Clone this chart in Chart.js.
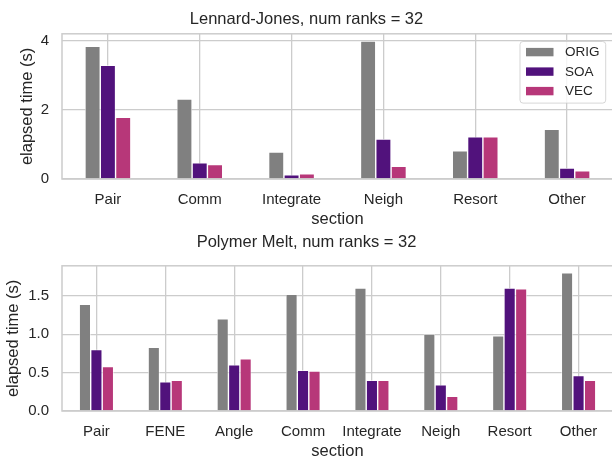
<!DOCTYPE html>
<html>
<head>
<meta charset="utf-8">
<script src="https://cdn.jsdelivr.net/npm/chart.js@4/dist/chart.umd.min.js"></script>
<style>
  html, body { margin: 0; padding: 0; background: #ffffff; overflow: hidden; }
  #wrap { position: relative; width: 612px; height: 457px; overflow: hidden; background: #fff; }
  .box { position: absolute; left: 0; width: 614px; }
  #b1 { top: 0; height: 229px; }
  #b2 { top: 229px; height: 232px; }
</style>
</head>
<body>
<div id="wrap">
  <div class="box" id="b1"><canvas id="c1"></canvas></div>
  <div class="box" id="b2"><canvas id="c2"></canvas></div>
</div>
<script>
// ---- data ----
const seriesNames = ["ORIG", "SOA", "VEC"];
const ljSections = ["Pair", "Comm", "Integrate", "Neigh", "Resort", "Other"];
const ljOrig = [3.85, 2.32, 0.78, 4.00, 0.82, 1.44];
const ljSoa  = [3.30, 0.47, 0.12, 1.16, 1.22, 0.32];
const ljVec  = [1.79, 0.42, 0.15, 0.37, 1.22, 0.24];
const ljTicks = [0, 2, 4];

const pmSections = ["Pair", "FENE", "Angle", "Comm", "Integrate", "Neigh", "Resort", "Other"];
const pmOrig = [1.39, 0.83, 1.20, 1.52, 1.60, 1.00, 0.98, 1.80];
const pmSoa  = [0.80, 0.38, 0.60, 0.53, 0.40, 0.34, 1.60, 0.46];
const pmVec  = [0.58, 0.40, 0.68, 0.52, 0.40, 0.19, 1.59, 0.40];
const pmTicks = [0, 0.5, 1.0, 1.5];

const colors = ["#808080", "#51127c", "#b73779"];
const FONT = "'Liberation Sans', Arial, sans-serif";
const TXT = "#262626";
const GRID = "#cccccc";

// frame around the plot area (seaborn whitegrid spines)
const framePlugin = {
  id: 'frame',
  beforeDatasetsDraw(chart) {
    const a = chart.chartArea, ctx = chart.ctx;
    ctx.save();
    ctx.strokeStyle = GRID;
    ctx.lineWidth = 1.5;
    ctx.strokeRect(a.left, a.top, a.right - a.left, a.bottom - a.top);
    ctx.restore();
  }
};

// matplotlib-like legend box in the upper right of the plot area
const mplLegend = {
  id: 'mplLegend',
  afterDatasetsDraw(chart, args, opts) {
    if (!opts || !opts.show) return;
    const a = chart.chartArea, ctx = chart.ctx;
    const w = 85.7, h = 61.6;
    const x0 = a.right - 7.3 - w, y0 = a.top + 7.7;
    ctx.save();
    ctx.beginPath();
    if (ctx.roundRect) ctx.roundRect(x0, y0, w, h, 3); else ctx.rect(x0, y0, w, h);
    ctx.fillStyle = 'rgba(255,255,255,0.8)';
    ctx.fill();
    ctx.strokeStyle = 'rgba(204,204,204,0.8)';
    ctx.lineWidth = 1;
    ctx.stroke();
    ctx.font = "13.5px " + FONT;
    ctx.textBaseline = 'middle';
    ctx.fillStyle = TXT;
    chart.data.datasets.forEach((ds, i) => {
      const cy = y0 + 10.6 + i * 19.5;
      ctx.fillStyle = ds.backgroundColor;
      ctx.fillRect(x0 + 6, cy - 4.2, 27.5, 8.4);
      ctx.fillStyle = TXT;
      ctx.fillText(ds.label, x0 + 45, cy + 0.5);
    });
    ctx.restore();
  }
};

function makeChart(id, cfg) {
  const datasets = cfg.series.map((vals, i) => ({
    label: seriesNames[i],
    data: vals,
    backgroundColor: colors[i],
    borderColor: '#ffffff',
    borderWidth: 0.7,
    categoryPercentage: 0.5,
    barPercentage: 1.0
  }));
  return new Chart(document.getElementById(id), {
    type: 'bar',
    data: { labels: cfg.labels, datasets },
    plugins: [framePlugin, mplLegend],
    options: {
      responsive: true,
      maintainAspectRatio: false,
      animation: false,
      devicePixelRatio: 1,
      layout: { padding: { left: 0, right: 1, top: 0, bottom: 0 } },
      plugins: {
        legend: { display: false },
        tooltip: { enabled: false },
        title: {
          display: true,
          text: cfg.title,
          color: TXT,
          font: { family: FONT, size: 16.5, weight: 'normal' },
          padding: cfg.titlePad
        },
        mplLegend: { show: cfg.legend }
      },
      scales: {
        x: {
          grid: { color: GRID, lineWidth: 1.3, offset: false, drawTicks: false },
          border: { display: false },
          ticks: { color: TXT, font: { family: FONT, size: 15 }, padding: 12, maxRotation: 0, autoSkip: false },
          title: { display: true, text: 'section', color: TXT, font: { family: FONT, size: 16.5 }, padding: { top: 0, bottom: 0 } },
          afterFit: s => { s.height = cfg.xh; }
        },
        y: {
          min: 0,
          max: cfg.ymax,
          grid: { color: GRID, lineWidth: 1.3, drawTicks: false },
          border: { display: false },
          afterBuildTicks: s => { s.ticks = cfg.ticks.map(v => ({ value: v })); },
          ticks: { color: TXT, font: { family: FONT, size: 15 }, padding: 13, callback: cfg.fmt },
          title: { display: true, text: 'elapsed time (s)', color: TXT, font: { family: FONT, size: 16.5 }, padding: { top: cfg.ytitlePad, bottom: 0 } },
          afterFit: s => { s.width = 62; }
        }
      }
    }
  });
}

makeChart('c1', {
  labels: ljSections,
  series: [ljOrig, ljSoa, ljVec],
  title: 'Lennard-Jones, num ranks = 32',
  titlePad: { top: 10, bottom: 4 },
  ymax: 4.21,
  ticks: ljTicks,
  fmt: v => String(v),
  xh: 50,
  ytitlePad: 17.5,
  legend: true
});

makeChart('c2', {
  labels: pmSections,
  series: [pmOrig, pmSoa, pmVec],
  title: 'Polymer Melt, num ranks = 32',
  titlePad: { top: 4, bottom: 13 },
  ymax: 1.89,
  ticks: pmTicks,
  fmt: v => Number(v).toFixed(1),
  xh: 50,
  ytitlePad: 4,
  legend: false
});
</script>
</body>
</html>
